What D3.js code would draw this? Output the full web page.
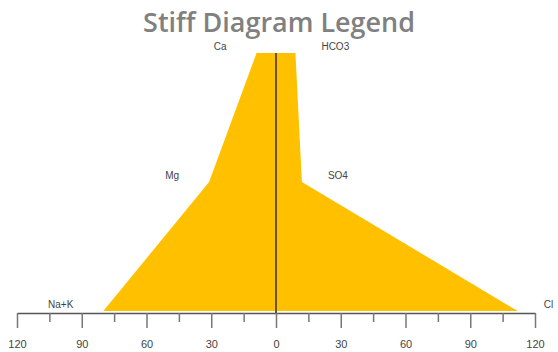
<!DOCTYPE html>
<html>
<head>
<meta charset="utf-8">
<script src="https://cdn.jsdelivr.net/npm/d3@7"></script>
<style>
  html, body { margin: 0; padding: 0; background: #fff; }
  svg { display: block; }
</style>
</head>
<body>
<svg id="chart" width="558" height="352"></svg>
<script>
// Stiff diagram: cations on the left, anions on the right (meq/L)
const cations = ["Ca", "Mg", "Na+K"];
const anions = ["HCO3", "SO4", "Cl"];
const cationValues = [9, 31, 80];
const anionValues = [9, 12, 112];
const tickValuesMajor = [-120, -90, -60, -30, 0, 30, 60, 90, 120];
const tickValuesMinor = [-105, -75, -45, -15, 15, 45, 75, 105];
const title = "Stiff Diagram Legend";

const svg = d3.select("#chart");

const x = d3.scaleLinear().domain([-120, 120]).range([17, 535]);
const y = d3.scalePoint().domain(d3.range(cations.length)).range([53, 311]);
const axisY = 313;

// Title
const t = svg.append("text")
  .attr("x", 279)
  .attr("y", 32)
  .attr("text-anchor", "middle")
  .attr("font-family", "'Open Sans', sans-serif")
  .attr("font-weight", 600)
  .attr("font-size", 26)
  .attr("fill", "#808080")
  .text(title);
const tw = t.node().getComputedTextLength();
t.attr("font-size", 26 * 272 / tw);

// Polygon outline: cations top→bottom, then anions bottom→top
const pts = [];
cationValues.forEach((v, i) => pts.push([x(-v), y(i)]));
for (let i = anionValues.length - 1; i >= 0; i--) pts.push([x(anionValues[i]), y(i)]);

svg.append("path")
  .attr("d", d3.line()(pts) + "Z")
  .attr("fill", "#FFC000")
  .attr("stroke", "none");

// Centre line
svg.append("line")
  .attr("x1", x(0)).attr("x2", x(0))
  .attr("y1", y(0)).attr("y2", axisY)
  .attr("stroke", "#6b5526")
  .attr("stroke-width", 2);

// Ion labels
const labelFont = "'Liberation Sans', Arial, sans-serif";
svg.append("g").selectAll("text").data(cations).join("text")
  .attr("x", (d, i) => x(-cationValues[i]) - 30)
  .attr("y", (d, i) => y(i) - 3)
  .attr("text-anchor", "end")
  .attr("font-family", labelFont)
  .attr("font-size", 10)
  .attr("fill", "#444")
  .text(d => d);

svg.append("g").selectAll("text").data(anions).join("text")
  .attr("x", (d, i) => x(anionValues[i]) + 26)
  .attr("y", (d, i) => y(i) - 3)
  .attr("text-anchor", "start")
  .attr("font-family", labelFont)
  .attr("font-size", 10)
  .attr("fill", "#444")
  .text(d => d);

// Axis: major ticks with labels, minor ticks without
const gMajor = svg.append("g")
  .attr("transform", `translate(0,${axisY})`)
  .call(d3.axisBottom(x).tickValues(tickValuesMajor).tickSize(15).tickSizeOuter(0)
    .tickPadding(12).tickFormat(d => Math.abs(d)));
gMajor.select(".domain").attr("stroke", "#555").attr("stroke-width", 1.5);
gMajor.selectAll(".tick line").attr("stroke", "#777").attr("stroke-width", 1.5);
gMajor.selectAll(".tick text")
  .attr("font-family", labelFont)
  .attr("font-size", 11)
  .attr("fill", "#444");

const gMinor = svg.append("g")
  .attr("transform", `translate(0,${axisY})`)
  .call(d3.axisBottom(x).tickValues(tickValuesMinor).tickSize(9).tickFormat(""));
gMinor.select(".domain").remove();
gMinor.selectAll(".tick line").attr("stroke", "#777").attr("stroke-width", 1.5);
</script>
</body>
</html>
